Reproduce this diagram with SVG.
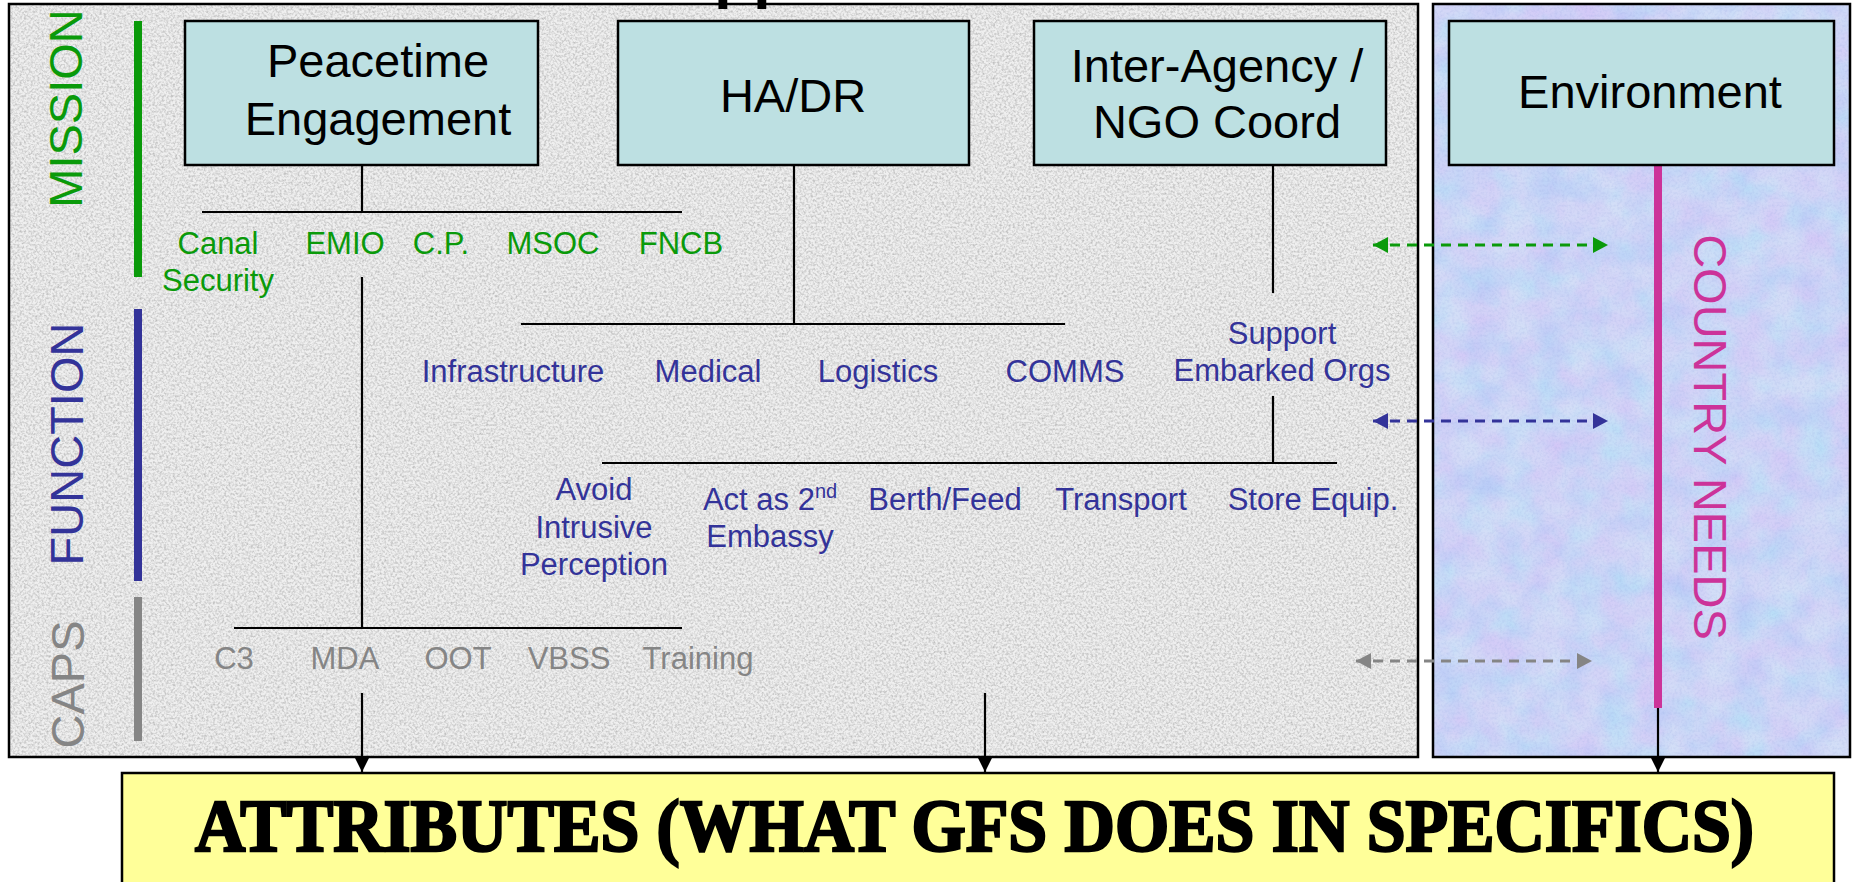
<svg xmlns="http://www.w3.org/2000/svg" width="1856" height="882" viewBox="0 0 1856 882">
<style>
.box{fill:#bde0e2;stroke:#000;stroke-width:2.5}
.nt{font-family:"Liberation Sans",Arial,sans-serif;font-size:47px;fill:#000;text-anchor:middle}
.side{font-family:"Liberation Sans",Arial,sans-serif;font-size:47px;text-anchor:middle}
.lb{font-family:"Liberation Sans",Arial,sans-serif;font-size:31px;text-anchor:middle}
.g{fill:#0a9a0a}
.b{fill:#333399}
.k{fill:#858585}
.ln{stroke:#000;stroke-width:2.2;fill:none}
.da{stroke-width:3;stroke-dasharray:10 7;fill:none}
</style>
<defs>
<filter id="granite" x="0" y="0" width="1" height="1" color-interpolation-filters="sRGB">
<feTurbulence type="fractalNoise" baseFrequency="0.45" numOctaves="2" seed="7"/>
<feColorMatrix type="matrix" values="0 0 0 0 0.68  0 0 0 0 0.68  0 0 0 0 0.68  1.6 0 0 0 -0.62"/>
</filter>
<filter id="pastel" x="0" y="0" width="1" height="1" color-interpolation-filters="sRGB">
<feTurbulence type="fractalNoise" baseFrequency="0.03" numOctaves="3" seed="11"/>
<feColorMatrix type="matrix" values="0.9 0 0 0 0.45  0 0.6 0 0 0.55  0 0 0 0 1  0 0 0 0 0.22"/>
</filter>
<filter id="speck" x="0" y="0" width="1" height="1" color-interpolation-filters="sRGB">
<feTurbulence type="fractalNoise" baseFrequency="0.4" numOctaves="2" seed="5"/>
<feColorMatrix type="matrix" values="0 0 0 0 0.55  0 0 0 0 0.62  0 0 0 0 0.85  1.2 0 0 0 -0.5"/>
</filter>
<marker id="ak" markerWidth="14" markerHeight="14" refX="14" refY="7" orient="auto" markerUnits="userSpaceOnUse"><path d="M0,0 L14,7 L0,14 z" fill="#000"/></marker>
<marker id="ag" markerWidth="15" markerHeight="16" refX="15" refY="8" orient="auto-start-reverse" markerUnits="userSpaceOnUse"><path d="M0,0 L15,8 L0,16 z" fill="#0a9a0a"/></marker>
<marker id="ab" markerWidth="15" markerHeight="16" refX="15" refY="8" orient="auto-start-reverse" markerUnits="userSpaceOnUse"><path d="M0,0 L15,8 L0,16 z" fill="#333399"/></marker>
<marker id="ay" markerWidth="15" markerHeight="16" refX="15" refY="8" orient="auto-start-reverse" markerUnits="userSpaceOnUse"><path d="M0,0 L15,8 L0,16 z" fill="#858585"/></marker>
</defs>
<rect width="1856" height="882" fill="#fff"/>
<!-- panels -->
<g id="left-panel">
<rect x="9" y="4" width="1409" height="753" fill="#efefef"/>
<rect x="9" y="4" width="1409" height="753" filter="url(#granite)"/>
<rect x="9" y="4" width="1409" height="753" fill="none" stroke="#000" stroke-width="2.5"/>
</g>
<g id="right-panel">
<rect x="1433" y="4" width="417" height="753" fill="#c6d5f5"/>
<rect x="1433" y="4" width="417" height="753" filter="url(#pastel)"/>
<rect x="1433" y="4" width="417" height="753" filter="url(#speck)" opacity="0.35"/>
<rect x="1433" y="4" width="417" height="753" fill="none" stroke="#000" stroke-width="2.5"/>
</g>
<text x="714" y="-4" font-family="'Liberation Sans',Arial,sans-serif" font-weight="bold" font-size="64" fill="#000">pp</text>
<!-- side labels -->
<g id="mission-label">
<rect x="134" y="21" width="8" height="256" fill="#0a9a0a"/>
<text class="side g" transform="translate(82,108.5) rotate(-90)">MISSION</text>
</g>
<g id="function-label">
<rect x="134" y="309" width="8" height="272" fill="#333399"/>
<text class="side b" transform="translate(83,444) rotate(-90)">FUNCTION</text>
</g>
<g id="caps-label">
<rect x="134" y="597" width="8" height="144" fill="#858585"/>
<text class="side k" transform="translate(84,684.5) rotate(-90)">CAPS</text>
</g>
<g id="country-needs">
<rect x="1654" y="165" width="8" height="543" fill="#cc3399"/>
<text class="side" fill="#cc3399" transform="translate(1694,437) rotate(90)">COUNTRY NEEDS</text>
</g>
<!-- connectors -->
<g id="connectors">
<path class="ln" d="M362,165 V212 M202,212 H682"/>
<path class="ln" d="M362,277 V628 M234,628 H682"/>
<path class="ln" d="M794,165 V324 M521,324 H1065"/>
<path class="ln" d="M1273,165 V293"/>
<path class="ln" d="M1273,396 V463 M602,463 H1337"/>
<path class="ln" d="M362,693 V772" marker-end="url(#ak)"/>
<path class="ln" d="M985,693 V772" marker-end="url(#ak)"/>
<path class="ln" d="M1658,708 V772" marker-end="url(#ak)"/>
<path class="da" stroke="#0a9a0a" d="M1373,245 H1608" marker-start="url(#ag)" marker-end="url(#ag)"/>
<path class="da" stroke="#333399" d="M1373,421 H1608" marker-start="url(#ab)" marker-end="url(#ab)"/>
<path class="da" stroke="#858585" d="M1356,661 H1592" marker-start="url(#ay)" marker-end="url(#ay)"/>
</g>
<!-- mission nodes -->
<g id="peacetime">
<rect class="box" x="185" y="21" width="353" height="144"/>
<text class="nt" x="378" y="77">Peacetime</text>
<text class="nt" x="378" y="135">Engagement</text>
</g>
<g id="hadr">
<rect class="box" x="618" y="21" width="351" height="144"/>
<text class="nt" x="793" y="112">HA/DR</text>
</g>
<g id="interagency">
<rect class="box" x="1034" y="21" width="352" height="144"/>
<text class="nt" x="1217" y="82">Inter-Agency /</text>
<text class="nt" x="1217" y="138">NGO Coord</text>
</g>
<g id="environment">
<rect class="box" x="1449" y="21" width="385" height="144"/>
<text class="nt" x="1650" y="108">Environment</text>
</g>
<!-- mission items -->
<g id="mission-items">
<text class="lb g" x="218" y="254">Canal</text>
<text class="lb g" x="218" y="291">Security</text>
<text class="lb g" x="345" y="254">EMIO</text>
<text class="lb g" x="441" y="254">C.P.</text>
<text class="lb g" x="553" y="254">MSOC</text>
<text class="lb g" x="681" y="254">FNCB</text>
</g>
<g id="function-items">
<text class="lb b" x="513" y="382">Infrastructure</text>
<text class="lb b" x="708" y="382">Medical</text>
<text class="lb b" x="878" y="382">Logistics</text>
<text class="lb b" x="1065" y="382">COMMS</text>
<text class="lb b" x="1282" y="344">Support</text>
<text class="lb b" x="1282" y="381">Embarked Orgs</text>
</g>
<g id="support-items">
<text class="lb b" x="594" y="500">Avoid</text>
<text class="lb b" x="594" y="538">Intrusive</text>
<text class="lb b" x="594" y="575">Perception</text>
<text class="lb b" x="770" y="510">Act as 2<tspan font-size="20" dy="-12">nd</tspan></text>
<text class="lb b" x="770" y="547">Embassy</text>
<text class="lb b" x="945" y="510">Berth/Feed</text>
<text class="lb b" x="1121" y="510">Transport</text>
<text class="lb b" x="1313" y="510">Store Equip.</text>
</g>
<g id="caps-items">
<text class="lb k" x="234" y="669">C3</text>
<text class="lb k" x="345" y="669">MDA</text>
<text class="lb k" x="458" y="669">OOT</text>
<text class="lb k" x="569" y="669">VBSS</text>
<text class="lb k" x="698" y="669">Training</text>
</g>
<g id="attributes">
<rect x="122" y="773" width="1712" height="130" fill="#ffff99" stroke="#000" stroke-width="2.5"/>
<text x="195" y="851" font-family="'Liberation Serif','Times New Roman',serif" font-weight="bold" font-size="74" fill="#000" stroke="#000" stroke-width="2.5" textLength="1559" lengthAdjust="spacingAndGlyphs">ATTRIBUTES (WHAT GFS DOES IN SPECIFICS)</text>
</g>
</svg>
